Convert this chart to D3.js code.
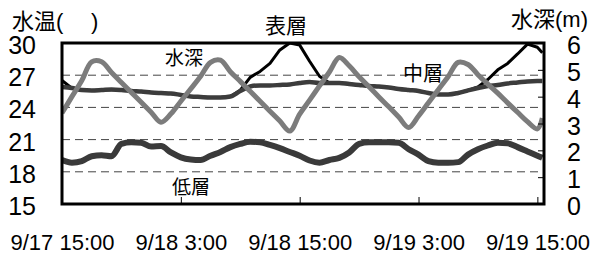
<!DOCTYPE html>
<html>
<head>
<meta charset="utf-8">
<script src="https://cdn.jsdelivr.net/npm/d3@7"></script>
<style>
  html, body { margin: 0; padding: 0; background: #fff; }
  svg text { font-family: 'Liberation Sans', Arial, 'Noto Sans CJK JP', sans-serif; fill: #000; }
</style>
</head>
<body>
<div id="chart"></div>
<script>
'use strict';

// hours after 9/17 15:00
const hours = [0, 1, 2, 3, 4, 5, 6, 7, 8, 9, 10, 11, 12, 13, 14, 15, 16, 17, 18, 19,
               20, 21, 22, 23, 24, 25, 26, 27, 28, 29, 30, 31, 32, 33, 34, 35, 36, 37, 38, 39,
               40, 41, 42, 43, 44, 45, 46, 47, 48, 48.5];
const tickHours = [0, 12, 24, 36, 48];
const tickLabels = ['9/17 15:00', '9/18 3:00', '9/18 15:00', '9/19 3:00', '9/19 15:00'];
const tempTicks = [15, 18, 21, 24, 27, 30];
const depthTicks = [0, 1, 2, 3, 4, 5, 6];

// 水深 (m)
const depth = [3.39, 4.00, 4.60, 5.30, 5.30, 4.90, 4.53, 4.16, 3.79, 3.42,
               3.05, 3.36, 3.83, 4.29, 4.76, 5.28, 5.36, 4.93, 4.57, 4.20,
               3.83, 3.46, 3.09, 2.72, 3.35, 3.87, 4.40, 4.92, 5.46, 5.15,
               4.74, 4.37, 3.99, 3.62, 3.24, 2.85, 3.28, 3.77, 4.26, 4.75,
               5.28, 5.20, 4.82, 4.47, 4.13, 3.77, 3.42, 3.07, 2.80, 3.20];
// 表層 (℃)
const surface = [26.50, 25.80, 25.62, 25.58, 25.62, 25.67, 25.62, 25.53, 25.48, 25.39,
                 25.34, 25.30, 25.16, 25.02, 24.97, 24.93, 24.93, 25.02, 25.60, 26.80,
                 27.35, 28.10, 29.35, 30.00, 29.80, 28.30, 26.90, 26.28, 26.28, 26.18,
                 26.09, 26.00, 25.95, 25.86, 25.72, 25.62, 25.53, 25.34, 25.20, 25.20,
                 25.34, 25.58, 25.90, 26.60, 27.50, 28.10, 28.98, 29.90, 29.60, 29.10];
// 中層 (℃)
const middle = [25.90, 25.80, 25.62, 25.58, 25.62, 25.67, 25.62, 25.53, 25.48, 25.39,
                25.34, 25.30, 25.16, 25.02, 24.97, 24.93, 24.93, 25.02, 25.53, 25.95,
                26.05, 26.05, 26.09, 26.14, 26.28, 26.37, 26.28, 26.28, 26.28, 26.18,
                26.09, 26.00, 25.95, 25.86, 25.72, 25.62, 25.53, 25.34, 25.20, 25.20,
                25.34, 25.58, 25.81, 26.00, 26.09, 26.23, 26.32, 26.42, 26.46, 26.46];
// 低層 (℃)
const bottom = [19.10, 18.85, 19.00, 19.45, 19.55, 19.45, 20.60, 20.75, 20.70, 20.35,
                20.40, 19.80, 19.35, 19.15, 19.10, 19.50, 19.85, 20.30, 20.60, 20.80,
                20.75, 20.50, 20.20, 19.85, 19.50, 19.05, 18.85, 19.10, 19.30, 19.80,
                20.60, 20.75, 20.75, 20.75, 20.70, 20.10, 19.60, 19.00, 18.85, 18.85,
                18.90, 19.60, 20.10, 20.45, 20.70, 20.65, 20.30, 19.90, 19.50, 19.30];

function getMargins() {
    let top = 43, right = 48, bottom = 53, left = 62;
    return {
        top, right, bottom, left,
        width: 592 - left - right,
        height: 257 - top - bottom
    };
}

function drawChart(container) {
    let m = getMargins();
    d3.select(container).selectAll('*').remove();

    let svg = d3.select(container).append('svg')
                .attr('width', 592)
                .attr('height', 257);

    let x = d3.scaleLinear()
              .domain([0, 48.67])
              .range([m.left, m.left + m.width]);
    let yT = d3.scaleLinear()
               .domain([15, 30])
               .range([m.top + m.height, m.top]);
    let yD = d3.scaleLinear()
               .domain([0, 6])
               .range([m.top + m.height, m.top]);

    // dashed grid on the temperature ticks
    svg.append('g').attr('class', 'grid')
       .selectAll('line').data(tempTicks.slice(1, -1))
       .enter().append('line')
               .attr('x1', m.left).attr('x2', m.left + m.width)
               .attr('y1', d => yT(d)).attr('y2', d => yT(d))
               .attr('stroke', '#444')
               .attr('stroke-width', 1)
               .attr('stroke-dasharray', '8,5');

    svg.append('clipPath').attr('id', 'plot')
       .append('rect')
       .attr('x', m.left).attr('y', m.top)
       .attr('width', m.width).attr('height', m.height);

    let lines = svg.append('g').attr('clip-path', 'url(#plot)');
    let tempLine = d3.line()
                     .x((d, i) => x(hours[i]))
                     .y(d => yT(d));
    let smoothTemp = d3.line()
                       .x((d, i) => x(hours[i]))
                       .y(d => yT(d))
                       .curve(d3.curveMonotoneX);
    let depthLine = d3.line()
                      .x((d, i) => x(hours[i]))
                      .y(d => yD(d))
                      .curve(d3.curveCatmullRom);

    lines.append('path').attr('d', tempLine(surface))
         .attr('fill', 'none').attr('stroke', '#000').attr('stroke-width', 3)
         .attr('stroke-linejoin', 'round');
    lines.append('path').attr('d', smoothTemp(middle))
         .attr('fill', 'none').attr('stroke', '#3c3c3c').attr('stroke-width', 4.5);
    lines.append('path').attr('d', smoothTemp(bottom))
         .attr('fill', 'none').attr('stroke', '#3a3a3a').attr('stroke-width', 6);
    lines.append('path').attr('d', depthLine(depth))
         .attr('fill', 'none').attr('stroke', '#7c7c7c').attr('stroke-width', 5);

    // axes
    let xAxis = d3.axisBottom(x)
                  .tickValues(tickHours)
                  .tickFormat((d, i) => tickLabels[i])
                  .tickSizeInner(-7).tickSizeOuter(0).tickPadding(30);
    let gx = svg.append('g').attr('transform', `translate(0,${m.top + m.height})`).call(xAxis);
    gx.selectAll('text').style('font-size', '22px');

    let yAxis = d3.axisLeft(yT)
                  .tickValues(tempTicks)
                  .tickFormat(d3.format('d'))
                  .tickSize(0).tickPadding(26);
    let gy = svg.append('g').attr('transform', `translate(${m.left},0)`).call(yAxis);
    gy.selectAll('text').style('font-size', '25px').attr('dy', '0.42em');

    let y2Axis = d3.axisRight(yD)
                   .tickValues(depthTicks)
                   .tickFormat(d3.format('d'))
                   .tickSizeInner(-6).tickSizeOuter(0).tickPadding(23);
    let gy2 = svg.append('g').attr('transform', `translate(${m.left + m.width},0)`).call(y2Axis);
    gy2.selectAll('text').style('font-size', '25px').attr('dy', '0.42em');

    [gx, gy, gy2].forEach(g => {
        g.select('.domain').remove();
        g.selectAll('line').attr('stroke', '#000');
        g.attr('font-family', null).attr('font-size', null);
    });

    // frame
    svg.append('rect')
       .attr('x', m.left).attr('y', m.top)
       .attr('width', m.width).attr('height', m.height)
       .attr('fill', 'none').attr('stroke', '#000').attr('stroke-width', 3);

    // titles and series labels
    let label = (txt, px, py, size, anchor) => svg.append('text')
        .attr('x', px).attr('y', py)
        .attr('text-anchor', anchor)
        .style('font-size', size + 'px')
        .text(txt);
    label('水温(', 12, 29, 22, 'start');
    label(')', 91, 29, 22, 'start');
    label('水深(m)', 588, 27, 22, 'end');
    label('表層', 286, 33, 21, 'middle');
    label('水深', 184, 65, 19, 'middle');
    label('中層', 423, 81, 20, 'middle');
    label('低層', 191, 194, 19, 'middle');
}

drawChart(document.getElementById('chart'));
</script>
</body>
</html>
